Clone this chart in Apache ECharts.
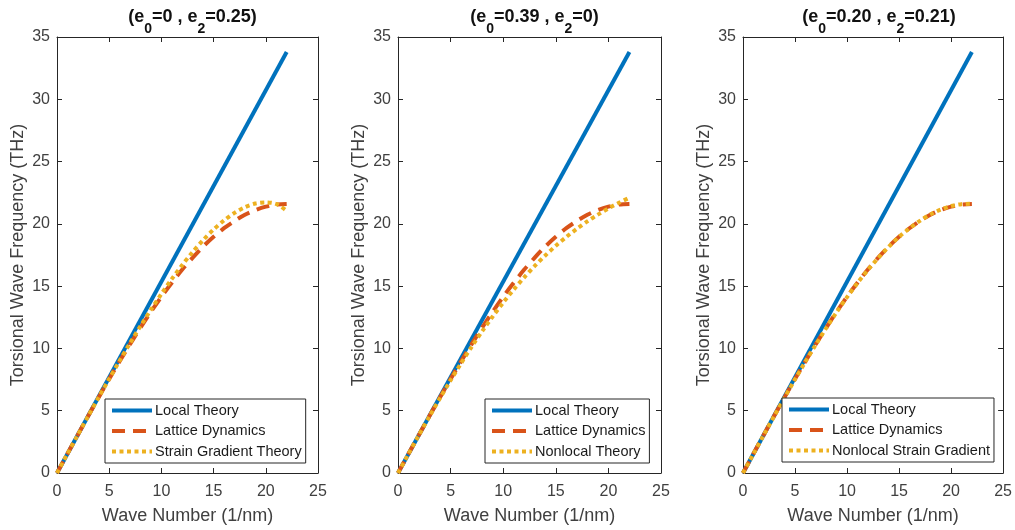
<!DOCTYPE html>
<html>
<head>
<meta charset="utf-8">
<script src="https://cdn.jsdelivr.net/npm/echarts@6/dist/echarts.min.js"></script>
<style>
  html, body { margin: 0; padding: 0; background: #fff; }
  #chart { width: 1015px; height: 530px; }
</style>
</head>
<body>
<div id="chart"></div>
<script>
// Torsional wave dispersion: three parameter sets compared against lattice dynamics
const xTicks = [0, 5, 10, 15, 20, 25];
const yTicks = [0, 5, 10, 15, 20, 25, 30, 35];

const localWaveNumber = [0, 22];
const localTheory = [0, 33.8];

const waveNumber = [0, 1, 2, 3, 4, 5, 6, 7, 8, 9, 10, 11, 12, 13, 14, 15, 16, 17, 18, 19, 20, 21, 22];
const latticeDynamics = [0, 1.54, 3.07, 4.59, 6.09, 7.55, 8.97, 10.35, 11.67, 12.94, 14.15, 15.27, 16.33, 17.29, 18.18, 18.96, 19.65, 20.23, 20.73, 21.11, 21.38, 21.55, 21.60];
const strainGradientTheory = [0, 1.54, 3.07, 4.59, 6.09, 7.56, 9.01, 10.43, 11.80, 13.11, 14.38, 15.58, 16.70, 17.75, 18.70, 19.55, 20.28, 20.88, 21.34, 21.63, 21.72, 21.60, 21.05];
const nonlocalTheory = [0, 1.54, 3.06, 4.56, 6.02, 7.44, 8.81, 10.13, 11.38, 12.56, 13.68, 14.73, 15.71, 16.62, 17.46, 18.24, 18.95, 19.60, 20.20, 20.74, 21.24, 21.69, 22.10];
const nonlocalStrainGradient = [0, 1.53, 3.06, 4.57, 6.06, 7.52, 8.94, 10.31, 11.64, 12.91, 14.12, 15.25, 16.30, 17.27, 18.16, 18.95, 19.64, 20.24, 20.75, 21.15, 21.43, 21.58, 21.62];

const panelTitles = [
  ['0', '0.25'],
  ['0.39', '0'],
  ['0.20', '0.21']
];
const thirdCurveNames = ['Strain Gradient Theory', 'Nonlocal Theory', 'Nonlocal Strain Gradient'];
const thirdCurveValues = [strainGradientTheory, nonlocalTheory, nonlocalStrainGradient];

const xLabel = 'Wave Number (1/nm)';
const yLabel = 'Torsional Wave Frequency (THz)';

const BLUE = '#0072BD', ORANGE = '#D95319', YELLOW = '#EDB120';
const AXIS = '#262626', TEXT = '#404040';
const FONT = '"Liberation Sans", Arial, Helvetica, sans-serif';

const grids = [
  { left: 57, top: 37, width: 261, height: 438 },
  { left: 398, top: 37, width: 263, height: 438 },
  { left: 743, top: 37, width: 262, height: 438 }
];
const legendBoxes = [
  { left: 105, top: 399 },
  { left: 485, top: 399 },
  { left: 782, top: 398 }
];

const pairs = (xs, ys) => xs.map((x, i) => [x, ys[i]]);

const xAxes = [], yAxes = [], series = [], titles = [], legends = [];

grids.forEach((g, p) => {
  const common = {
    gridIndex: p, type: 'value', interval: 5,
    axisLine: { show: true, onZero: false, lineStyle: { color: AXIS, width: 1 } },
    axisTick: { show: true, inside: true, length: 5, lineStyle: { color: AXIS } },
    splitLine: { show: false }
  };
  // bottom axis with labels
  xAxes.push(Object.assign({}, common, {
    position: 'bottom', min: 0, max: 25,
    axisLabel: { color: TEXT, fontSize: 16, fontFamily: FONT, margin: 11,
      formatter: v => xTicks.includes(v) ? String(v) : '' },
    name: xLabel, nameLocation: 'middle', nameGap: 34,
    nameTextStyle: { color: TEXT, fontSize: 18, fontFamily: FONT }
  }));
  // top mirror axis, ticks only
  xAxes.push(Object.assign({}, common, {
    position: 'top', min: 0, max: 25, axisLabel: { show: false }
  }));
  yAxes.push(Object.assign({}, common, {
    position: 'left', min: 0, max: 35,
    axisLabel: { color: TEXT, fontSize: 16, fontFamily: FONT, margin: 7,
      formatter: v => yTicks.includes(v) ? String(v) : '' },
    name: yLabel, nameLocation: 'middle', nameGap: 30,
    nameTextStyle: { color: TEXT, fontSize: 18, fontFamily: FONT }
  }));
  yAxes.push(Object.assign({}, common, {
    position: 'right', min: 0, max: 35, axisLabel: { show: false }
  }));

  const xi = 2 * p, yi = 2 * p;
  series.push({
    name: 'Local Theory', type: 'line', xAxisIndex: xi, yAxisIndex: yi,
    data: pairs(localWaveNumber, localTheory), symbol: 'none', silent: true,
    lineStyle: { color: BLUE, width: 4 }, itemStyle: { color: BLUE }
  });
  series.push({
    name: 'Lattice Dynamics', type: 'line', xAxisIndex: xi, yAxisIndex: yi,
    data: pairs(waveNumber, latticeDynamics), symbol: 'none', smooth: 0.3, silent: true,
    lineStyle: { color: ORANGE, width: 4, type: [13, 8], cap: 'butt' }, itemStyle: { color: ORANGE }
  });
  series.push({
    name: thirdCurveNames[p], type: 'line', xAxisIndex: xi, yAxisIndex: yi,
    data: pairs(waveNumber, thirdCurveValues[p]), symbol: 'none', smooth: 0.3, silent: true,
    lineStyle: { color: YELLOW, width: 4, type: [4, 3.5], cap: 'butt' }, itemStyle: { color: YELLOW }
  });

  const [e0, e2] = panelTitles[p];
  titles.push({
    text: '{n|(e}{s|0}{n|=' + e0 + ' , e}{s|2}{n|=' + e2 + ')}',
    left: g.left + g.width / 2, top: 3, textAlign: 'center',
    textStyle: {
      rich: {
        n: { fontSize: 18, fontWeight: 'bold', color: '#111', fontFamily: FONT, lineHeight: 24, verticalAlign: 'top' },
        s: { fontSize: 14, fontWeight: 'bold', color: '#111', fontFamily: FONT, lineHeight: 14, padding: [14, 0, 0, 0], verticalAlign: 'top' }
      }
    }
  });

  legends.push({
    orient: 'vertical', left: legendBoxes[p].left, top: legendBoxes[p].top,
    data: ['Local Theory', 'Lattice Dynamics', thirdCurveNames[p]],
    itemWidth: 40, itemHeight: 14, itemGap: 5.5,
    padding: [4, 4, 4, 5],
    backgroundColor: '#fff', borderColor: AXIS, borderWidth: 1, borderRadius: 0,
    selectedMode: false,
    itemStyle: { opacity: 0 },
    lineStyle: { width: 4 },
    textStyle: { color: '#1a1a1a', fontSize: 14.5, fontFamily: FONT, padding: [0, 0, 0, -2] }
  });
});

const chart = echarts.init(document.getElementById('chart'), null, { renderer: 'canvas' });
chart.setOption({
  animation: false,
  backgroundColor: '#fff',
  title: titles,
  legend: legends,
  grid: grids,
  xAxis: xAxes,
  yAxis: yAxes,
  series: series
});
</script>
</body>
</html>
